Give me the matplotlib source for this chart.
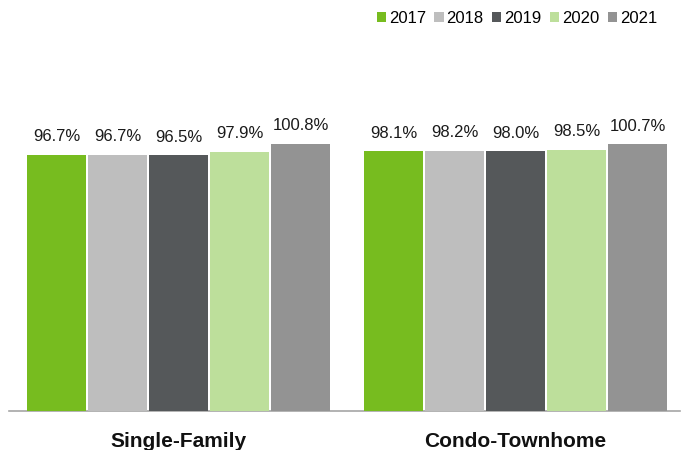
import matplotlib
matplotlib.use('Agg')
import matplotlib.pyplot as plt
import numpy as np

plt.rcParams['font.family'] = ['Liberation Sans', 'DejaVu Sans']

categories = ['Single-Family', 'Condo-Townhome']
years = ['2017', '2018', '2019', '2020', '2021']
values = {
    '2017': [96.7, 98.1],
    '2018': [96.7, 98.2],
    '2019': [96.5, 98.0],
    '2020': [97.9, 98.5],
    '2021': [100.8, 100.7],
}
colors = ['#77bc1f', '#bebebe', '#55585a', '#bddf9b', '#939393']

fig = plt.figure(figsize=(6.88, 4.5), dpi=100)
ax = fig.add_axes([0.013, 0.087, 0.975, 0.824])

x = np.arange(len(categories))
step = 0.181
w = 0.175
for i, (yr, c) in enumerate(zip(years, colors)):
    pos = x + (i - 2) * step
    bars = ax.bar(pos, values[yr], w, color=c, edgecolor='none', label=yr, zorder=3)
    for b, v in zip(bars, values[yr]):
        ax.text(b.get_x() + b.get_width() / 2, v + 6.8, f'{v:.1f}%',
                ha='center', va='center', fontsize=12, color='#1a1a1a')

ax.set_xlim(-0.504, 1.487)
ax.set_ylim(0, 140)
ax.set_yticks([])
ax.set_xticks(x)
ax.set_xticklabels(categories, fontsize=15, fontweight='bold', color='#111111')
ax.tick_params(axis='x', length=0, pad=15)
for s in ['top', 'right', 'left']:
    ax.spines[s].set_visible(False)
ax.spines['bottom'].set_color('#a6a6a6')
ax.spines['bottom'].set_linewidth(1.2)

ax.legend(loc='center right', bbox_to_anchor=(0.966, 1.058), ncol=5, frameon=False,
          fontsize=12, handlelength=0.55, handleheight=0.55, handletextpad=0.18,
          columnspacing=0.5, borderaxespad=0, borderpad=0)

fig.savefig('out.png', dpi=100, facecolor='white')
